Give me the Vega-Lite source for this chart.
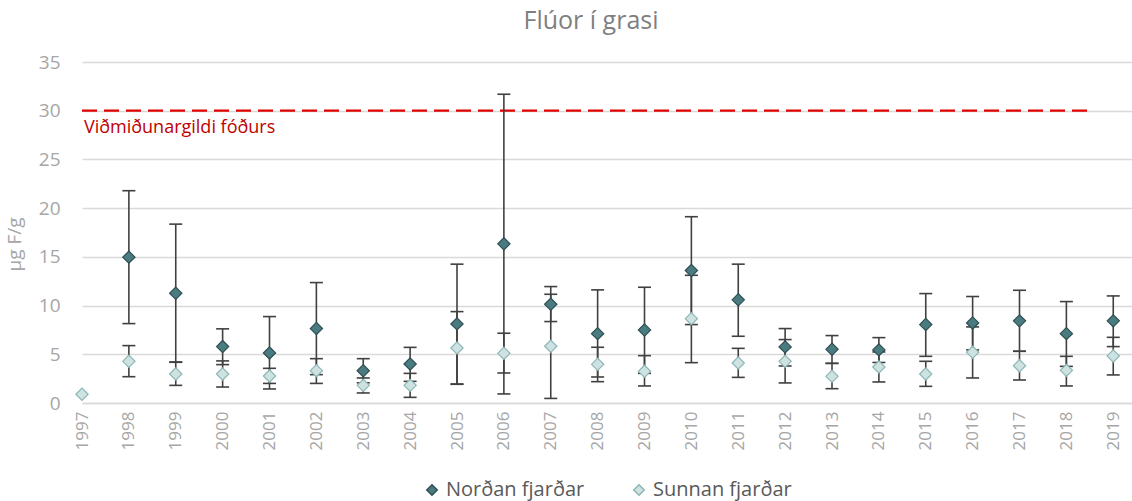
{
  "$schema": "https://vega.github.io/schema/vega-lite/v6.json",
  "width": 1050,
  "height": 341,
  "autosize": {"type": "none"},
  "padding": {"left": 82, "top": 62, "right": 0, "bottom": 98},
  "background": "white",
  "config": {"font": "Open Sans", "view": {"stroke": null}},
  "title": {"text": "Flúor í grasi", "fontSize": 25, "fontWeight": "normal", "color": "#7f7f7f", "font": "Open Sans", "anchor": "middle", "dx": -16, "offset": 19},
  "datasets": {
    "meas": [
      {"year": 1998, "series": "Norðan fjarðar", "mean": 14.97, "lo": 8.15, "hi": 21.79},
      {"year": 1999, "series": "Norðan fjarðar", "mean": 11.27, "lo": 4.18, "hi": 18.36},
      {"year": 2000, "series": "Norðan fjarðar", "mean": 5.79, "lo": 3.94, "hi": 7.61},
      {"year": 2001, "series": "Norðan fjarðar", "mean": 5.14, "lo": 1.44, "hi": 8.87},
      {"year": 2002, "series": "Norðan fjarðar", "mean": 7.64, "lo": 2.91, "hi": 12.36},
      {"year": 2003, "series": "Norðan fjarðar", "mean": 3.31, "lo": 2.07, "hi": 4.55},
      {"year": 2004, "series": "Norðan fjarðar", "mean": 4.0, "lo": 2.22, "hi": 5.71},
      {"year": 2005, "series": "Norðan fjarðar", "mean": 8.12, "lo": 1.95, "hi": 14.25},
      {"year": 2006, "series": "Norðan fjarðar", "mean": 16.34, "lo": 0.93, "hi": 31.69},
      {"year": 2007, "series": "Norðan fjarðar", "mean": 10.14, "lo": 8.36, "hi": 11.95},
      {"year": 2008, "series": "Norðan fjarðar", "mean": 7.12, "lo": 2.67, "hi": 11.61},
      {"year": 2009, "series": "Norðan fjarðar", "mean": 7.5, "lo": 3.04, "hi": 11.88},
      {"year": 2010, "series": "Norðan fjarðar", "mean": 13.6, "lo": 8.05, "hi": 19.12},
      {"year": 2011, "series": "Norðan fjarðar", "mean": 10.59, "lo": 6.85, "hi": 14.25},
      {"year": 2012, "series": "Norðan fjarðar", "mean": 5.76, "lo": 3.8, "hi": 7.64},
      {"year": 2013, "series": "Norðan fjarðar", "mean": 5.51, "lo": 4.07, "hi": 6.92},
      {"year": 2014, "series": "Norðan fjarðar", "mean": 5.45, "lo": 4.16, "hi": 6.71},
      {"year": 2015, "series": "Norðan fjarðar", "mean": 8.05, "lo": 4.79, "hi": 11.23},
      {"year": 2016, "series": "Norðan fjarðar", "mean": 8.22, "lo": 5.45, "hi": 10.93},
      {"year": 2017, "series": "Norðan fjarðar", "mean": 8.43, "lo": 5.31, "hi": 11.57},
      {"year": 2018, "series": "Norðan fjarðar", "mean": 7.12, "lo": 3.76, "hi": 10.41},
      {"year": 2019, "series": "Norðan fjarðar", "mean": 8.43, "lo": 5.79, "hi": 10.99},
      {"year": 1997, "series": "Sunnan fjarðar", "mean": 0.9, "lo": null, "hi": null},
      {"year": 1998, "series": "Sunnan fjarðar", "mean": 4.28, "lo": 2.7, "hi": 5.89},
      {"year": 1999, "series": "Sunnan fjarðar", "mean": 2.98, "lo": 1.81, "hi": 4.21},
      {"year": 2000, "series": "Sunnan fjarðar", "mean": 2.98, "lo": 1.64, "hi": 4.32},
      {"year": 2001, "series": "Sunnan fjarðar", "mean": 2.77, "lo": 2.01, "hi": 3.56},
      {"year": 2002, "series": "Sunnan fjarðar", "mean": 3.32, "lo": 2.01, "hi": 4.55},
      {"year": 2003, "series": "Sunnan fjarðar", "mean": 1.81, "lo": 1.03, "hi": 2.57},
      {"year": 2004, "series": "Sunnan fjarðar", "mean": 1.81, "lo": 0.58, "hi": 3.04},
      {"year": 2005, "series": "Sunnan fjarðar", "mean": 5.65, "lo": 1.92, "hi": 9.38},
      {"year": 2006, "series": "Sunnan fjarðar", "mean": 5.1, "lo": 3.08, "hi": 7.16},
      {"year": 2007, "series": "Sunnan fjarðar", "mean": 5.82, "lo": 0.47, "hi": 11.16},
      {"year": 2008, "series": "Sunnan fjarðar", "mean": 3.97, "lo": 2.19, "hi": 5.72},
      {"year": 2009, "series": "Sunnan fjarðar", "mean": 3.25, "lo": 1.75, "hi": 4.86},
      {"year": 2010, "series": "Sunnan fjarðar", "mean": 8.66, "lo": 4.14, "hi": 13.11},
      {"year": 2011, "series": "Sunnan fjarðar", "mean": 4.11, "lo": 2.63, "hi": 5.61},
      {"year": 2012, "series": "Sunnan fjarðar", "mean": 4.28, "lo": 2.06, "hi": 6.51},
      {"year": 2013, "series": "Sunnan fjarðar", "mean": 2.74, "lo": 1.47, "hi": 4.07},
      {"year": 2014, "series": "Sunnan fjarðar", "mean": 3.7, "lo": 2.16, "hi": 5.24},
      {"year": 2015, "series": "Sunnan fjarðar", "mean": 2.98, "lo": 1.71, "hi": 4.28},
      {"year": 2016, "series": "Sunnan fjarðar", "mean": 5.2, "lo": 2.57, "hi": 7.81},
      {"year": 2017, "series": "Sunnan fjarðar", "mean": 3.83, "lo": 2.36, "hi": 5.31},
      {"year": 2018, "series": "Sunnan fjarðar", "mean": 3.35, "lo": 1.75, "hi": 4.79},
      {"year": 2019, "series": "Sunnan fjarðar", "mean": 4.83, "lo": 2.88, "hi": 6.74}
    ],
    "guide": [
      {"year": 1997, "year2": 2018.47, "mean": 30, "labelY": 28.2, "label": "Viðmiðunargildi fóðurs"}
    ]
  },
  "layer": [
    {
      "data": {"name": "guide"},
      "mark": {"type": "rule", "color": "#e00000", "strokeWidth": 2.2, "strokeDash": [15, 7]},
      "encoding": {
        "x": {"field": "year", "type": "quantitative",
          "scale": {"domain": [1997, 2019.4], "nice": false, "zero": false},
          "axis": {"title": null, "values": [1997,1998,1999,2000,2001,2002,2003,2004,2005,2006,2007,2008,2009,2010,2011,2012,2013,2014,2015,2016,2017,2018,2019],
            "format": "d", "labelAngle": 270, "grid": false, "ticks": false, "domain": true, "domainColor": "#d9d9d9", "domainWidth": 1.3,
            "labelColor": "#a6a6a6", "labelFontSize": 17, "labelPadding": 8, "labelFont": "Open Sans", "labelBound": false, "labelOverlap": false}},
        "x2": {"field": "year2"},
        "y": {"field": "mean", "type": "quantitative",
          "scale": {"domain": [0, 35], "nice": false},
          "axis": {"title": "µg F/g", "values": [0,5,10,15,20,25,30,35], "domain": false, "ticks": false,
            "gridColor": "#d9d9d9", "gridWidth": 1.3, "labelColor": "#a6a6a6", "labelFontSize": 19, "labelPadding": 22,
            "titleColor": "#a6a6a6", "titleFontSize": 19, "titleFontWeight": "normal", "titlePadding": 14, "titleY": 182, "titleFont": "Open Sans", "labelFont": "Open Sans"}}
      }
    },
    {
      "data": {"name": "guide"},
      "mark": {"type": "text", "color": "#c00000", "fontSize": 18, "align": "left", "baseline": "middle", "dx": 2, "font": "Open Sans"},
      "encoding": {
        "x": {"field": "year", "type": "quantitative"},
        "y": {"field": "labelY", "type": "quantitative"},
        "text": {"field": "label"}
      }
    },
    {
      "data": {"name": "meas"},
      "transform": [{"filter": "datum.lo != null"}],
      "mark": {"type": "rule", "color": "#404040", "strokeWidth": 1.6},
      "encoding": {
        "x": {"field": "year", "type": "quantitative"},
        "y": {"field": "lo", "type": "quantitative"},
        "y2": {"field": "hi"}
      }
    },
    {
      "data": {"name": "meas"},
      "transform": [{"filter": "datum.lo != null"}],
      "mark": {"type": "tick", "orient": "horizontal", "color": "#404040", "size": 13, "thickness": 1.6, "opacity": 1},
      "encoding": {
        "x": {"field": "year", "type": "quantitative"},
        "y": {"field": "lo", "type": "quantitative"}
      }
    },
    {
      "data": {"name": "meas"},
      "transform": [{"filter": "datum.lo != null"}],
      "mark": {"type": "tick", "orient": "horizontal", "color": "#404040", "size": 13, "thickness": 1.6, "opacity": 1},
      "encoding": {
        "x": {"field": "year", "type": "quantitative"},
        "y": {"field": "hi", "type": "quantitative"}
      }
    },
    {
      "data": {"name": "meas"},
      "mark": {"type": "point", "shape": "diamond", "filled": true, "size": 150, "strokeWidth": 1.2, "opacity": 1},
      "encoding": {
        "x": {"field": "year", "type": "quantitative"},
        "y": {"field": "mean", "type": "quantitative"},
        "fill": {"field": "series", "type": "nominal",
          "scale": {"domain": ["Norðan fjarðar", "Sunnan fjarðar"], "range": ["#4a7b80", "#cfe2e2"]},
          "legend": {"title": null, "orient": "none", "legendX": 340, "legendY": 418, "direction": "horizontal",
            "labelFontSize": 20, "labelColor": "#595959", "labelFont": "Open Sans", "symbolSize": 110, "symbolType": "diamond",
            "columnPadding": 44, "labelOffset": 4, "padding": 0}},
        "stroke": {"field": "series", "type": "nominal",
          "scale": {"domain": ["Norðan fjarðar", "Sunnan fjarðar"], "range": ["#2e4f52", "#8cb6b6"]},
          "legend": {"title": null, "orient": "none", "legendX": 340, "legendY": 418, "direction": "horizontal",
            "labelFontSize": 20, "labelColor": "#595959", "labelFont": "Open Sans", "symbolSize": 110, "symbolType": "diamond",
            "columnPadding": 44, "labelOffset": 4, "padding": 0}}
      }
    }
  ]
}
